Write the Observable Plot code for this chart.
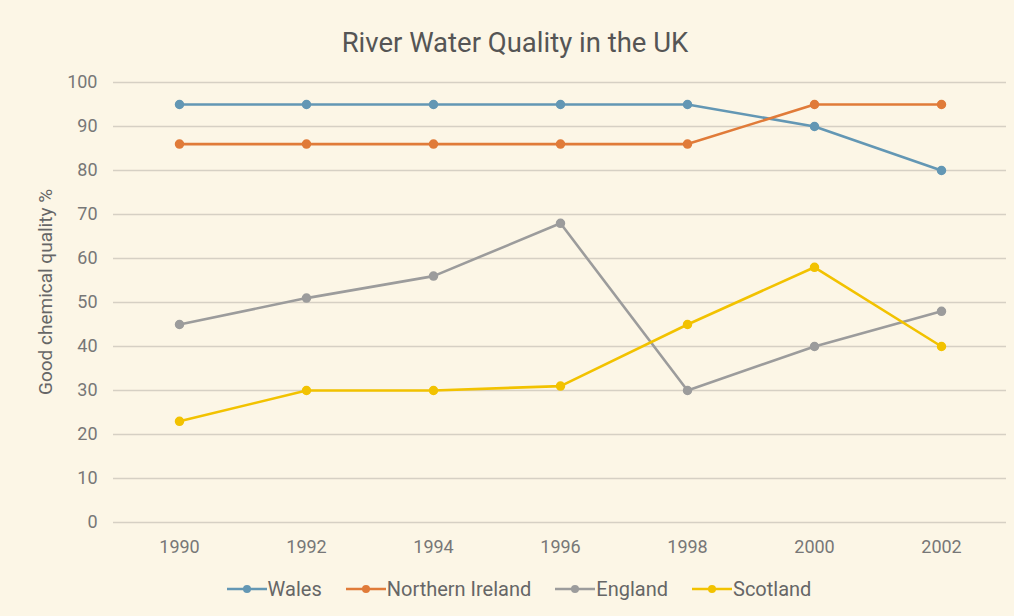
<!DOCTYPE html>
<html>
<head>
<meta charset="utf-8">
<script src="https://cdn.jsdelivr.net/npm/d3@7"></script>
<script src="https://cdn.jsdelivr.net/npm/@observablehq/plot@0.6"></script>
<style>
  html, body { margin: 0; padding: 0; background: #fcf6e6; }
  body { width: 1014px; height: 616px; overflow: hidden; font-family: Roboto, "Open Sans", sans-serif; position: relative; }
  #title { position: absolute; top: 26px; left: 8px; width: 1014px; text-align: center; font-size: 27.5px; color: #555; }
  #chart { position: absolute; top: 62px; left: 0; }
  #ylabel { position: absolute; left: 45px; top: 292px; transform: translate(-50%, -50%) rotate(-90deg); font-size: 19px; color: #666; white-space: nowrap; }
  #legend { position: absolute; top: 577px; left: 12px; width: 1014px; display: flex; justify-content: center; gap: 24px; font-size: 20px; color: #666; }
  #legend .item { display: flex; align-items: center; }
  #legend svg { margin-right: 1px; }
</style>
</head>
<body>
<div id="title">River Water Quality in the UK</div>
<div id="chart"></div>
<div id="ylabel">Good chemical quality %</div>
<div id="legend"></div>
<script>
const years = ["1990", "1992", "1994", "1996", "1998", "2000", "2002"];
const seriesNames = ["Wales", "Northern Ireland", "England", "Scotland"];
const seriesColors = ["#6397b4", "#e07b39", "#9c9c9c", "#f2c200"];
const wales = [95, 95, 95, 95, 95, 90, 80];
const northernIreland = [86, 86, 86, 86, 86, 95, 95];
const england = [45, 51, 56, 68, 30, 40, 48];
const scotland = [23, 30, 30, 31, 45, 58, 40];
const yTicks = [0, 10, 20, 30, 40, 50, 60, 70, 80, 90, 100];

const seriesValues = [wales, northernIreland, england, scotland];
const data = [];
seriesNames.forEach((name, i) => {
  years.forEach((yr, j) => data.push({series: name, year: yr, value: seriesValues[i][j]}));
});

const chart = Plot.plot({
  width: 1014,
  height: 505,
  marginLeft: 113,
  marginRight: 8,
  marginTop: 20,
  marginBottom: 45,
  style: {background: "transparent", fontFamily: "Roboto, sans-serif", fontSize: "18px", color: "#777"},
  x: {type: "point", domain: years, padding: 0.5, label: null, tickSize: 0, tickPadding: 18},
  y: {domain: [0, 100], ticks: yTicks, label: null, tickSize: 0, tickPadding: 16},
  color: {domain: seriesNames, range: seriesColors},
  marks: [
    Plot.ruleY(yTicks, {stroke: "#d6d0c4", strokeWidth: 1.3}),
    Plot.line(data, {x: "year", y: "value", z: "series", stroke: "series", strokeWidth: 2.6}),
    Plot.dot(data, {x: "year", y: "value", fill: "series", stroke: "series", r: 4})
  ]
});
document.getElementById("chart").appendChild(chart);

const legend = document.getElementById("legend");
seriesNames.forEach((name, i) => {
  const item = document.createElement("div");
  item.className = "item";
  item.innerHTML = `<svg width="40" height="12"><line x1="0" y1="6" x2="40" y2="6" stroke="${seriesColors[i]}" stroke-width="2.6"/><circle cx="20" cy="6" r="4" fill="${seriesColors[i]}"/></svg><span>${name}</span>`;
  legend.appendChild(item);
});
</script>
</body>
</html>
